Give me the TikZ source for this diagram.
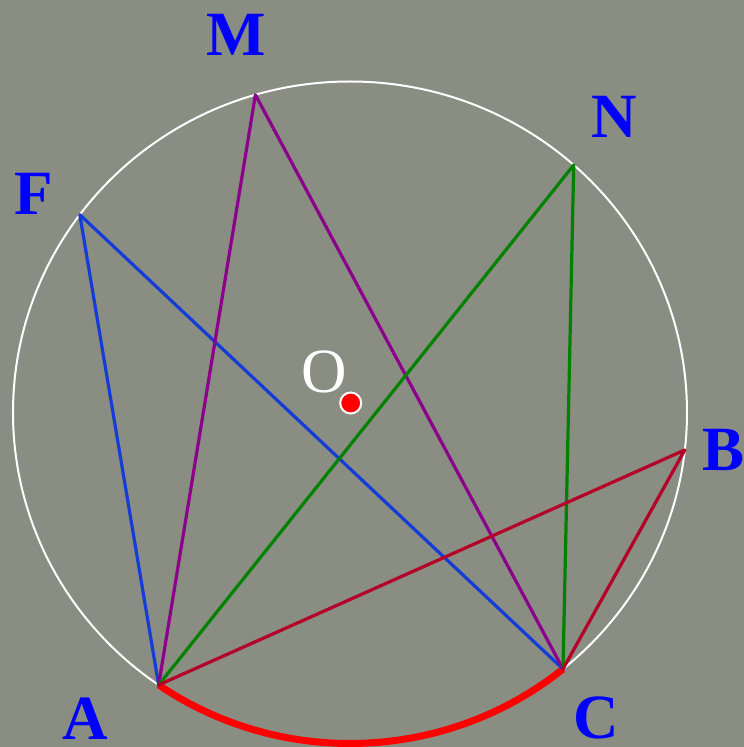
\documentclass[tikz,border=0pt]{standalone}
\usepackage{fontspec}
\newfontfamily\ptfont{Liberation Serif}
\usepackage{tikz}
\usetikzlibrary{positioning}

\definecolor{board}{RGB}{138,141,130}
\definecolor{lblue}{RGB}{0,0,255}
\definecolor{sblue}{RGB}{20,60,215}
\definecolor{spurple}{RGB}{140,0,140}
\definecolor{sgreen}{RGB}{0,130,0}
\definecolor{scrimson}{RGB}{180,0,40}

\begin{document}
\begin{tikzpicture}[x=1pt, y=1pt,
  ptlabel/.style={inner sep=0pt, font=\ptfont\bfseries\fontsize{63}{63}\selectfont, text=lblue},
  chord/.style={line width=3.2pt, line cap=round, line join=round},
  rim/.style={draw=white, line width=2pt},
  arcmark/.style={draw=red, line width=7pt}
]
\fill[board] (-350,-334.5) rectangle (394,412.5);
\useasboundingbox (-350,-334.5) rectangle (394,412.5);

% points on the circle
\coordinate (O) at (0,0);
\coordinate (A) at ({337*cos(235.4)},{331*sin(235.4)});
\coordinate (C) at ({337*cos(309.2)},{331*sin(309.2)});
\coordinate (B) at ({337*cos(353.5)},{331*sin(353.5)});
\coordinate (N) at ({337*cos(48.4)},{331*sin(48.4)});
\coordinate (M) at ({337*cos(106.3)},{331*sin(106.3)});
\coordinate (F) at ({337*cos(143.3)},{331*sin(143.3)});

\draw[rim] (O) ellipse [x radius=337, y radius=331];
\draw[arcmark] (A) arc [start angle=235.4, end angle=309.2, x radius=337, y radius=331];

\draw[chord, sblue] (A) -- (F) -- (C);
\draw[chord, spurple] (A) -- (M) -- (C);
\draw[chord, sgreen] (A) -- (N) -- (C);
\draw[chord, scrimson] (A) -- (B) -- (C);

% centre
\node[circle, fill=red, draw=white, line width=2pt, minimum size=21pt, inner sep=0pt] (dot) at (0.7,9.5) {};
\node[ptlabel, text=white, font=\ptfont\fontsize{63}{63}\selectfont] (lO) at (-25.5,41) {O};

% labels
\node[ptlabel] (lM) at (-114,378) {M};
\node[ptlabel] (lN) at (264,295.5) {N};
\node[ptlabel] (lF) at (-316.5,219) {F};
\node[ptlabel] (lB) at (373.5,-37.5) {B};
\node[ptlabel] (lA) at (-265,-306) {A};
\node[ptlabel] (lC) at (246.5,-305) {C};
\end{tikzpicture}
\end{document}
